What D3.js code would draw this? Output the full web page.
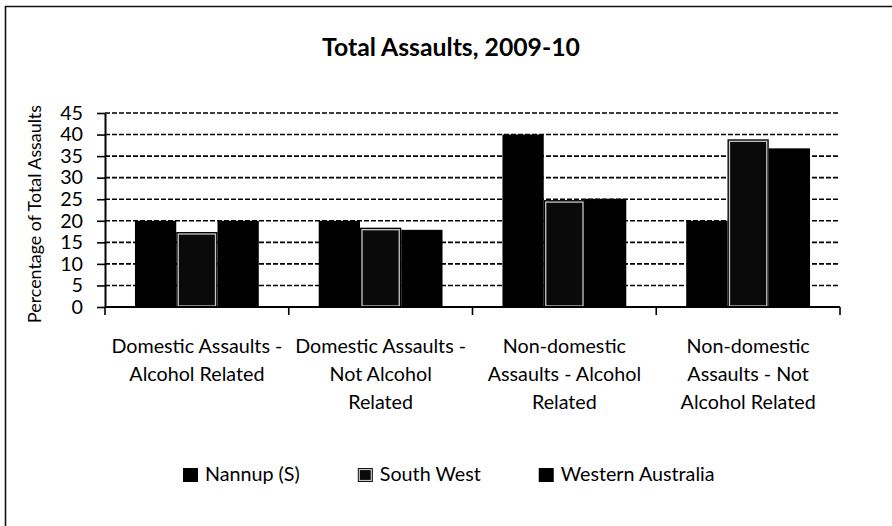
<!DOCTYPE html>
<html><head><meta charset="utf-8">
<script src="https://cdn.jsdelivr.net/npm/d3@7"></script>
<style>body{margin:0;background:#fff;} svg{display:block;}</style>
</head><body>
<script>
// ---- data ----
const categories = ["DA-AR", "DA-NAR", "NDA-AR", "NDA-NAR"];
const categoryLabels = [
  ["Domestic Assaults -", "Alcohol Related"],
  ["Domestic Assaults -", "Not Alcohol", "Related"],
  ["Non-domestic", "Assaults - Alcohol", "Related"],
  ["Non-domestic", "Assaults - Not", "Alcohol Related"]
];
const seriesNames = ["Nannup (S)", "South West", "Western Australia"];
const nannup = [20, 20, 40, 20];
const southWest = [17.4, 18.4, 24.8, 38.9];
const westernAustralia = [20, 17.9, 25.1, 36.8];
const yTicks = [0, 5, 10, 15, 20, 25, 30, 35, 40, 45];
const chartTitle = "Total Assaults, 2009-10";
const yAxisTitle = "Percentage of Total Assaults";

const seriesValues = [nannup, southWest, westernAustralia];
const FONT = "Lato, 'DejaVu Sans', sans-serif";

const W = 892, H = 526;
const plot = {left: 105, right: 840, top: 113, bottom: 307};

const svg = d3.select("body").append("svg").attr("width", W).attr("height", H);
svg.append("rect").attr("width", W).attr("height", H).attr("fill", "#fff");

// frame
svg.append("line").attr("x1", 5).attr("x2", W).attr("y1", 6.5).attr("y2", 6.5).attr("stroke", "#111").attr("stroke-width", 1.6);
svg.append("line").attr("x1", 5.5).attr("x2", 5.5).attr("y1", 6).attr("y2", H).attr("stroke", "#111").attr("stroke-width", 1.6);

function fitWidth(sel, target) {
  const w = sel.node().getComputedTextLength();
  const fs = parseFloat(sel.attr("font-size"));
  sel.attr("font-size", fs * target / w);
  return fs * target / w;
}

// title
const t = svg.append("text").attr("x", 451).attr("y", 56).attr("text-anchor", "middle")
  .attr("font-family", FONT).attr("font-weight", "bold").attr("font-size", 24).attr("fill", "#000")
  .text(chartTitle);
fitWidth(t, 258);

const y = d3.scaleLinear().domain([0, 45]).range([plot.bottom, plot.top]);
const x0 = d3.scaleBand().domain(categories).range([plot.left, plot.right]);
const x1 = d3.scaleBand().domain(seriesNames).range([0, x0.bandwidth()]).paddingOuter(0.726);

// gridlines
svg.append("g").selectAll("line").data(yTicks.filter(d => d > 0)).join("line")
  .attr("x1", plot.left).attr("x2", plot.right)
  .attr("y1", d => y(d)).attr("y2", d => y(d))
  .attr("stroke", "#000").attr("stroke-width", 1.6).attr("stroke-dasharray", "5,2");

// label font size from first x label
const probe = svg.append("text").attr("font-family", FONT).attr("font-size", 20).text(categoryLabels[0][0]);
const labelFS = fitWidth(probe, 171);
probe.remove();

// bars
const groups = svg.append("g").selectAll("g").data(categories).join("g")
  .attr("transform", d => `translate(${x0(d)},0)`);
groups.each(function(c, ci) {
  const g = d3.select(this);
  seriesNames.forEach((s, si) => {
    const v = seriesValues[si][ci];
    const bx = x1(s), bw = x1.bandwidth();
    g.append("rect").attr("x", bx).attr("y", y(v)).attr("width", bw).attr("height", y(0) - y(v))
      .attr("fill", "#000");
    if (si === 1) {
      g.append("rect").attr("x", bx + 2).attr("y", y(v) + 2).attr("width", bw - 4).attr("height", y(0) - y(v) - 3)
        .attr("fill", "#0a0a0a").attr("stroke", "#c8c8c8").attr("stroke-width", 1.3);
    }
  });
});

// y axis
const yAxis = svg.append("g").attr("transform", `translate(${plot.left},0)`)
  .call(d3.axisLeft(y).tickValues(yTicks).tickSize(8).tickPadding(14).tickSizeOuter(0));
yAxis.select(".domain").attr("stroke", "#000").attr("stroke-width", 2);
yAxis.selectAll(".tick line").attr("stroke", "#000").attr("stroke-width", 1.6);
yAxis.selectAll(".tick text").attr("font-family", FONT).attr("font-size", labelFS).attr("fill", "#000");

// x axis
const boundaries = categories.map(c => x0(c)).concat([plot.right]);
svg.append("line").attr("x1", plot.left).attr("x2", plot.right).attr("y1", y(0)).attr("y2", y(0))
  .attr("stroke", "#000").attr("stroke-width", 2);
svg.append("g").selectAll("line").data(boundaries).join("line")
  .attr("x1", d => d).attr("x2", d => d).attr("y1", y(0)).attr("y2", y(0) + 8)
  .attr("stroke", "#000").attr("stroke-width", 1.6);

// x labels
svg.append("g").selectAll("text").data(categories).join("text")
  .attr("font-family", FONT).attr("font-size", labelFS).attr("fill", "#000").attr("text-anchor", "middle")
  .each(function(c, i) {
    const cx = x0(c) + x0.bandwidth() / 2;
    d3.select(this).selectAll("tspan").data(categoryLabels[i]).join("tspan")
      .attr("x", cx).attr("y", (d, j) => 353 + j * 28).text(d => d);
  });

// y title
const yt = svg.append("text").attr("transform", `translate(41,${(plot.top + plot.bottom) / 2 + 4}) rotate(-90)`)
  .attr("text-anchor", "middle").attr("font-family", FONT).attr("font-size", labelFS).attr("fill", "#000")
  .text(yAxisTitle);
fitWidth(yt, 218);

// legend
let lx = 183;
const legend = svg.append("g");
seriesNames.forEach((s, i) => {
  legend.append("rect").attr("x", lx).attr("y", 468).attr("width", 15).attr("height", 14).attr("fill", "#000");
  if (i === 1) {
    legend.append("rect").attr("x", lx + 1.5).attr("y", 469.5).attr("width", 12).attr("height", 11)
      .attr("fill", "#0a0a0a").attr("stroke", "#c8c8c8").attr("stroke-width", 1.2);
  }
  const tx = legend.append("text").attr("x", lx + 22).attr("y", 481).attr("font-family", FONT)
    .attr("font-size", labelFS).attr("fill", "#000").text(s);
  lx = lx + 22 + tx.node().getComputedTextLength() + 58;
});
</script>
</body></html>
